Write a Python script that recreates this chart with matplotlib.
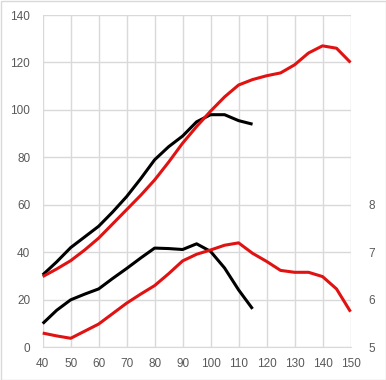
import matplotlib
matplotlib.use('Agg')
import matplotlib.pyplot as plt
from matplotlib.patches import Rectangle

# x values (every 5)
x_black = [40, 45, 50, 55, 60, 65, 70, 75, 80, 85, 90, 95, 100, 105, 110, 115]
x_red = [40, 45, 50, 55, 60, 65, 70, 75, 80, 85, 90, 95, 100, 105, 110, 115,
         120, 125, 130, 135, 140, 145, 150]

# upper curves, left axis
black_upper = [30.5, 36, 42, 46.5, 51, 57, 63.5, 71, 79, 84.5, 89, 95, 98, 98, 95.5, 94]
red_upper = [29.8, 33, 36.5, 41, 46, 52, 58, 64, 70.5, 78, 86, 93, 99.5, 105.5, 110.5,
             112.8, 114.4, 115.6, 119, 124, 127, 126, 120]

# lower curves, right axis
black_lower = [5.5, 5.78, 6.0, 6.12, 6.23, 6.45, 6.66, 6.88, 7.09, 7.08, 7.06, 7.18,
               7.02, 6.67, 6.21, 5.81]
red_lower = [5.3, 5.24, 5.19, 5.34, 5.49, 5.71, 5.93, 6.12, 6.3, 6.55, 6.82, 6.96,
             7.05, 7.15, 7.2, 6.98, 6.81, 6.62, 6.58, 6.58, 6.49, 6.23, 5.75]

red = '#e01212'
grey_txt = '#595959'
grid_c = '#d9d9d9'

plt.rcParams['font.family'] = ['Liberation Sans', 'DejaVu Sans']

fig = plt.figure(figsize=(3.86, 3.8), dpi=100)
ax = fig.add_axes([42.7/386, 32.7/380, (350.5-42.7)/386, (347.3-15)/380])
ax2 = ax.twinx()

kw = dict(lw=2.2, solid_joinstyle='round', solid_capstyle='butt', clip_on=False)
ax.plot(x_black, black_upper, color='black', **kw)
ax.plot(x_red, red_upper, color=red, **kw)
ax2.plot(x_black, black_lower, color='black', **kw)
ax2.plot(x_red, red_lower, color=red, **kw)

ax.set_xlim(40, 150)
ax.set_ylim(0, 140)
ax2.set_ylim(5, 12)
ax.set_xticks(range(40, 151, 10))
ax.set_yticks(range(0, 141, 20))
ax2.set_yticks([5, 6, 7, 8])

ax.grid(True, color=grid_c, lw=1.0)
ax.set_axisbelow(True)
for a in (ax, ax2):
    for s in a.spines.values():
        s.set_visible(False)
    a.tick_params(length=0, labelsize=8.5, colors=grey_txt)
ax.tick_params(axis='y', pad=9)
ax.tick_params(axis='x', pad=8)
ax2.tick_params(axis='y', pad=13)
ax.spines['bottom'].set_visible(True)
ax.spines['bottom'].set_color(grid_c)

fig.patches.append(Rectangle((0.5/386, 0.5/380), 385/386, 379/380, transform=fig.transFigure,
                             fill=False, edgecolor='#d9d9d9', lw=1.0))

fig.savefig('out.png', dpi=100)
